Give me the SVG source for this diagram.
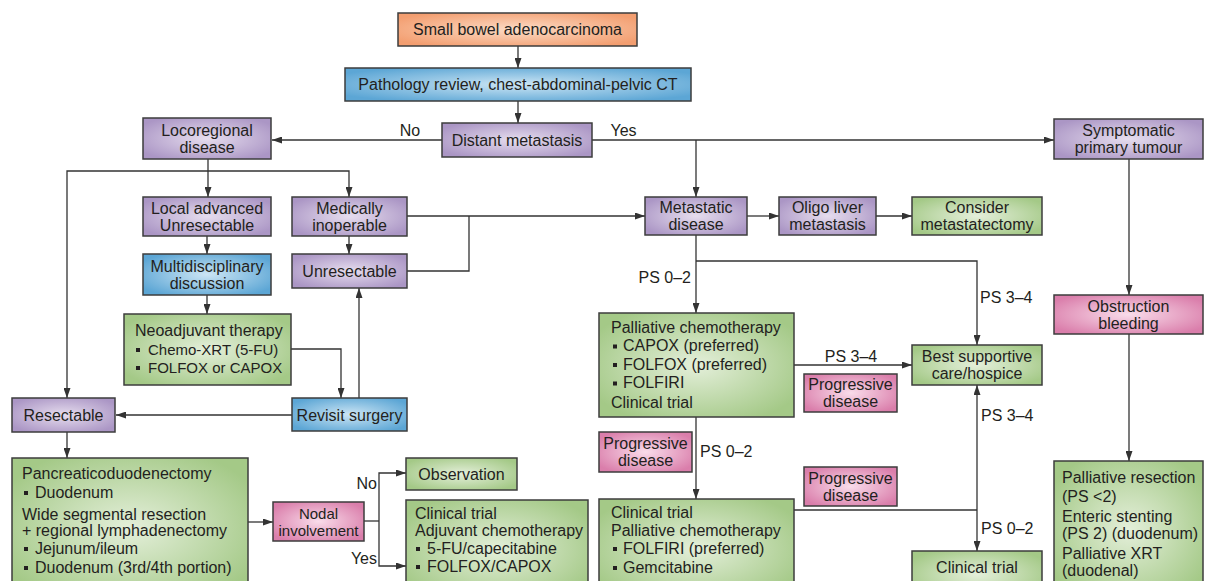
<svg xmlns="http://www.w3.org/2000/svg" width="1205" height="581" viewBox="0 0 1205 581">
<defs>
<style>
.t{font-family:"Liberation Sans",Arial,sans-serif;font-size:16px;fill:#231f20}
.s{font-size:15px}
.c{text-anchor:middle}
.e{text-anchor:end}
.box{stroke:#3d3d3d;stroke-width:1.5}
.or{fill:url(#gOr)}.bl{fill:url(#gBl)}.pu{fill:url(#gPu)}.gr{fill:url(#gGr)}.pk{fill:url(#gPk)}
.ln{fill:none;stroke:#333;stroke-width:1.3}
.ar{marker-end:url(#ah)}
.bu{fill:#231f20}
</style>
<radialGradient id="gOr" cx="50%" cy="50%" r="60%"><stop offset="0" stop-color="#fcdcc6"/><stop offset="1" stop-color="#f39e70"/></radialGradient>
<radialGradient id="gBl" cx="50%" cy="50%" r="60%"><stop offset="0" stop-color="#cce5f4"/><stop offset="1" stop-color="#5ca6d5"/></radialGradient>
<radialGradient id="gPu" cx="50%" cy="50%" r="60%"><stop offset="0" stop-color="#e6ddee"/><stop offset="1" stop-color="#ab96c5"/></radialGradient>
<radialGradient id="gGr" cx="50%" cy="50%" r="60%"><stop offset="0" stop-color="#e4efda"/><stop offset="1" stop-color="#a4c987"/></radialGradient>
<radialGradient id="gPk" cx="50%" cy="50%" r="60%"><stop offset="0" stop-color="#f9dcea"/><stop offset="1" stop-color="#da7eab"/></radialGradient>
<marker id="ah" viewBox="0 0 10 7" refX="10" refY="3.5" markerUnits="userSpaceOnUse" markerWidth="10" markerHeight="7" orient="auto"><path d="M0,0 L10,3.5 L0,7 z" fill="#333"/></marker>
</defs>
<rect width="1205" height="581" fill="#fff"/>

<g id="connectors">
<path class="ln ar" d="M518,46 V68"/>
<path class="ln ar" d="M518,101 V123"/>
<path class="ln ar" d="M442,140 H272"/>
<path class="ln ar" d="M592,140 H1054"/>
<path class="ln ar" d="M696,140 V197"/>
<path class="ln ar" d="M208,159 V197"/>
<path class="ln ar" d="M208,171 H67 V398"/>
<path class="ln ar" d="M208,171 H349 V197"/>
<path class="ln ar" d="M207,236 V254"/>
<path class="ln ar" d="M207,295 V314"/>
<path class="ln ar" d="M349,236 V254"/>
<path class="ln ar" d="M407,216 H645"/>
<path class="ln" d="M407,271 H469 V216"/>
<path class="ln ar" d="M291,349 H341 V398"/>
<path class="ln ar" d="M359,398 V288"/>
<path class="ln ar" d="M292,415 H116"/>
<path class="ln ar" d="M67,432 V458"/>
<path class="ln ar" d="M248,522 H273"/>
<path class="ln" d="M364,521 H379"/>
<path class="ln ar" d="M379,521 V473 H406"/>
<path class="ln ar" d="M379,521 V566 H406"/>
<path class="ln ar" d="M747,216 H779"/>
<path class="ln ar" d="M876,216 H912"/>
<path class="ln ar" d="M696,235 V313"/>
<path class="ln ar" d="M696,261 H977 V345"/>
<path class="ln ar" d="M794,365 H912"/>
<path class="ln ar" d="M696,417 V499"/>
<path class="ln" d="M794,510 H977"/>
<path class="ln ar" d="M977,510 V385"/>
<path class="ln ar" d="M977,510 V551"/>
<path class="ln ar" d="M1129,159 V295"/>
<path class="ln ar" d="M1129,334 V461"/>
<text class="t c" x="410" y="136">No</text>
<text class="t c" x="623.5" y="135.5">Yes</text>
<text class="t e" x="691" y="282.5">PS 0–2</text>
<text class="t" x="980" y="302.5">PS 3–4</text>
<text class="t c" x="851" y="361.5">PS 3–4</text>
<text class="t" x="700" y="456.5">PS 0–2</text>
<text class="t" x="981" y="420.5">PS 3–4</text>
<text class="t" x="981" y="533.5">PS 0–2</text>
<text class="t e" x="377" y="488.5">No</text>
<text class="t e" x="377" y="563.5">Yes</text>
</g>

<g id="small-bowel">
<rect class="box or" x="398" y="13" width="239" height="33"/>
<text class="t c" x="517.5" y="35">Small bowel adenocarcinoma</text>
</g>
<g id="pathology">
<rect class="box bl" x="345" y="68" width="346" height="33"/>
<text class="t c" x="518" y="90">Pathology review, chest-abdominal-pelvic CT</text>
</g>
<g id="distant">
<rect class="box pu" x="442" y="123" width="150" height="34"/>
<text class="t c" x="517" y="145.5">Distant metastasis</text>
</g>
<g id="locoregional">
<rect class="box pu" x="143" y="118" width="128" height="41"/>
<text class="t c" x="207" y="135.5">Locoregional</text>
<text class="t c" x="207" y="152.5">disease</text>
</g>
<g id="symptomatic">
<rect class="box pu" x="1054" y="119" width="149" height="40"/>
<text class="t c" x="1128.5" y="135.5">Symptomatic</text>
<text class="t c" x="1128.5" y="152.5">primary tumour</text>
</g>
<g id="local-advanced">
<rect class="box pu" x="143" y="197" width="128" height="39"/>
<text class="t c" x="207" y="213.5">Local advanced</text>
<text class="t c" x="207" y="230.5">Unresectable</text>
</g>
<g id="medically">
<rect class="box pu" x="292" y="197" width="115" height="39"/>
<text class="t c" x="349.5" y="213.5">Medically</text>
<text class="t c" x="349.5" y="230.5">inoperable</text>
</g>
<g id="metastatic">
<rect class="box pu" x="645" y="197" width="102" height="38"/>
<text class="t c" x="696" y="213">Metastatic</text>
<text class="t c" x="696" y="230">disease</text>
</g>
<g id="oligo">
<rect class="box pu" x="779" y="197" width="97" height="38"/>
<text class="t c" x="827.5" y="213">Oligo liver</text>
<text class="t c" x="827.5" y="230">metastasis</text>
</g>
<g id="consider">
<rect class="box gr" x="912" y="197" width="130" height="38"/>
<text class="t c" x="977" y="213">Consider</text>
<text class="t c" x="977" y="230">metastatectomy</text>
</g>
<g id="multidisciplinary">
<rect class="box bl" x="143" y="254" width="128" height="41"/>
<text class="t c" x="207" y="271.5">Multidisciplinary</text>
<text class="t c" x="207" y="288.5">discussion</text>
</g>
<g id="unresectable">
<rect class="box pu" x="292" y="254" width="115" height="34"/>
<text class="t c" x="349.5" y="276.5">Unresectable</text>
</g>
<g id="neoadjuvant">
<rect class="box gr" x="124" y="314" width="167" height="71"/>
<text class="t" x="135" y="335.5">Neoadjuvant therapy</text>
<rect class="bu" x="136" y="348" width="4" height="4"/>
<text class="t s" x="148" y="354.5">Chemo-XRT (5-FU)</text>
<rect class="bu" x="136" y="366" width="4" height="4"/>
<text class="t s" x="148" y="372.5">FOLFOX or CAPOX</text>
</g>
<g id="revisit">
<rect class="box bl" x="292" y="398" width="115" height="33"/>
<text class="t c" x="349.5" y="420.5">Revisit surgery</text>
</g>
<g id="resectable">
<rect class="box pu" x="12" y="398" width="103" height="34"/>
<text class="t c" x="63.5" y="420.5">Resectable</text>
</g>
<g id="pancreatico">
<rect class="box gr" x="12" y="458" width="236" height="140"/>
<text class="t" x="22" y="478.5">Pancreaticoduodenectomy</text>
<rect class="bu" x="24" y="491" width="4" height="4"/>
<text class="t" x="35" y="497.5">Duodenum</text>
<text class="t" x="22" y="519.5">Wide segmental resection</text>
<text class="t" x="22" y="535.5">+ regional lymphadenectomy</text>
<rect class="bu" x="24" y="547" width="4" height="4"/>
<text class="t" x="35" y="553.5">Jejunum/ileum</text>
<rect class="bu" x="24" y="566" width="4" height="4"/>
<text class="t" x="35" y="572.5">Duodenum (3rd/4th portion)</text>
</g>
<g id="nodal">
<rect class="box pk" x="273" y="502" width="91" height="39"/>
<text class="t c s" x="318.5" y="518.5">Nodal</text>
<text class="t c s" x="318.5" y="535.5">involvement</text>
</g>
<g id="observation">
<rect class="box gr" x="406" y="458" width="111" height="32"/>
<text class="t c" x="461.5" y="479.5">Observation</text>
</g>
<g id="adjuvant">
<rect class="box gr" x="406" y="500" width="182" height="98"/>
<text class="t" x="415" y="518.5">Clinical trial</text>
<text class="t" x="415" y="535.5">Adjuvant chemotherapy</text>
<rect class="bu" x="416" y="547" width="4" height="4"/>
<text class="t" x="427" y="553.5">5-FU/capecitabine</text>
<rect class="bu" x="416" y="565" width="4" height="4"/>
<text class="t" x="427" y="571.5">FOLFOX/CAPOX</text>
</g>
<g id="palliative-chemo">
<rect class="box gr" x="599" y="313" width="195" height="104"/>
<text class="t" x="611" y="332.5">Palliative chemotherapy</text>
<rect class="bu" x="613" y="344.5" width="4" height="4"/>
<text class="t" x="623" y="351">CAPOX (preferred)</text>
<rect class="bu" x="613" y="363" width="4" height="4"/>
<text class="t" x="623" y="369.5">FOLFOX (preferred)</text>
<rect class="bu" x="613" y="381.5" width="4" height="4"/>
<text class="t" x="623" y="388">FOLFIRI</text>
<text class="t" x="611" y="408">Clinical trial</text>
</g>
<g id="best-supportive">
<rect class="box gr" x="912" y="345" width="130" height="40"/>
<text class="t c" x="977" y="362">Best supportive</text>
<text class="t c" x="977" y="379">care/hospice</text>
</g>
<g id="progressive-1">
<rect class="box pk" x="804" y="374" width="93" height="38"/>
<text class="t c" x="850.5" y="390">Progressive</text>
<text class="t c" x="850.5" y="407">disease</text>
</g>
<g id="progressive-2">
<rect class="box pk" x="599" y="432" width="93" height="40"/>
<text class="t c" x="645.5" y="449">Progressive</text>
<text class="t c" x="645.5" y="466">disease</text>
</g>
<g id="progressive-3">
<rect class="box pk" x="804" y="467" width="93" height="39"/>
<text class="t c" x="850.5" y="483.5">Progressive</text>
<text class="t c" x="850.5" y="500.5">disease</text>
</g>
<g id="clinical-palliative">
<rect class="box gr" x="599" y="499" width="195" height="99"/>
<text class="t" x="611" y="517.5">Clinical trial</text>
<text class="t" x="611" y="535.5">Palliative chemotherapy</text>
<rect class="bu" x="613" y="547" width="4" height="4"/>
<text class="t" x="623" y="553.5">FOLFIRI (preferred)</text>
<rect class="bu" x="613" y="566" width="4" height="4"/>
<text class="t" x="623" y="572.5">Gemcitabine</text>
</g>
<g id="clinical-trial">
<rect class="box gr" x="912" y="551" width="130" height="47"/>
<text class="t c" x="977" y="572.5">Clinical trial</text>
</g>
<g id="obstruction">
<rect class="box pk" x="1054" y="295" width="149" height="39"/>
<text class="t c" x="1128.5" y="311.5">Obstruction</text>
<text class="t c" x="1128.5" y="328.5">bleeding</text>
</g>
<g id="palliative-resection">
<rect class="box gr" x="1054" y="461" width="149" height="137"/>
<text class="t" x="1062" y="482.5">Palliative resection</text>
<text class="t" x="1062" y="501.5">(PS &lt;2)</text>
<text class="t" x="1062" y="521.5">Enteric stenting</text>
<text class="t" x="1062" y="538.5">(PS 2) (duodenum)</text>
<text class="t" x="1062" y="558.5">Palliative XRT</text>
<text class="t" x="1062" y="575.5">(duodenal)</text>
</g>
</svg>
